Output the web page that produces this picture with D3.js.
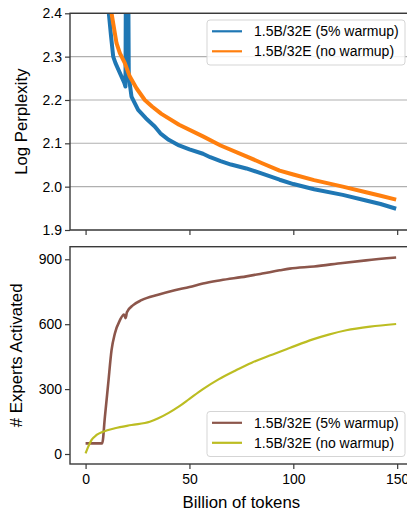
<!DOCTYPE html>
<html>
<head>
<meta charset="utf-8">
<script src="https://cdn.jsdelivr.net/npm/d3@7"></script>
<style>
  html, body { margin: 0; padding: 0; background: #fff; }
  svg { display: block; overflow: hidden; }
  text { font-family: "Liberation Sans", Arial, sans-serif; fill: #000; }
</style>
</head>
<body>
<div id="chart"></div>
<script>
// ---- data ----
const xTicks = [0, 50, 100, 150];
const pplTicks = [1.9, 2.0, 2.1, 2.2, 2.3, 2.4];
const expTicks = [0, 300, 600, 900];

const seriesNames = ['1.5B/32E (5% warmup)', '1.5B/32E (no warmup)'];

// log perplexity, 5% warmup  [billion tokens, value]
const pplWarmup = [
  [10.0, 2.47], [11.2, 2.40], [12.2, 2.35], [13.3, 2.30], [14.4, 2.285],
  [17.3, 2.254], [18.6, 2.24], [19.2, 2.231], [19.5, 2.60], [20.4, 2.60],
  [20.8, 2.254], [22.1, 2.208], [25.3, 2.177], [29, 2.158], [33.3, 2.139],
  [36, 2.123], [40, 2.108], [45, 2.095], [50, 2.086], [56.5, 2.076],
  [60, 2.068], [65, 2.059], [70, 2.051], [77.4, 2.042], [85, 2.030],
  [93.4, 2.016], [100, 2.006], [110, 1.994], [123.8, 1.981], [135, 1.968],
  [142, 1.960], [149.5, 1.949]
];
// log perplexity, no warmup
const pplNoWarmup = [
  [11.8, 2.45], [12.5, 2.40], [14.9, 2.331], [16.5, 2.308], [18.9, 2.285],
  [21.3, 2.254], [24.5, 2.227], [28.5, 2.200], [32, 2.185], [36.5, 2.168],
  [45, 2.143], [56.5, 2.116], [65, 2.095], [77.4, 2.070], [85, 2.054],
  [93.4, 2.037], [100, 2.028], [110, 2.015], [123.8, 2.000], [135, 1.987],
  [142, 1.979], [149.5, 1.970]
];
// experts activated, 5% warmup
const expWarmup = [
  [0, 49], [8.0, 49], [9.3, 172], [10.9, 326], [12.5, 480], [14.1, 557],
  [16.5, 618], [18.5, 645], [19.3, 628], [19.9, 655], [22.9, 688], [26.9, 711],
  [34.9, 736], [42.9, 757], [50, 772], [56.5, 788], [65, 803], [77.4, 821],
  [85, 834], [93.4, 849], [98.3, 857], [110, 867], [123.8, 883], [135, 895],
  [149.5, 908]
];
// experts activated, no warmup
const expNoWarmup = [
  [0, 3], [1.3, 34], [2.9, 65], [5.3, 88], [8.5, 103], [14.1, 119],
  [22.1, 134], [30.9, 149], [35, 165], [40, 190], [45, 220], [50, 255],
  [56.5, 300], [64, 345], [72.6, 388], [80, 422], [88.6, 455], [98.2, 490],
  [109.4, 530], [117, 552], [125.5, 572], [137, 589], [149.5, 601]
];

// ---- layout ----
const W = 407, H = 512;
const left = 70;
const top1 = 13.3, bot1 = 230;
const top2 = 246.7, bot2 = 464;

const svg = d3.select('#chart').append('svg')
  .attr('width', W).attr('height', H);

const x = d3.scaleLinear().domain([-7.5, 157.5]).range([left, left + 165 * 2.0773]);
const right = x.range()[1];
const y1 = d3.scaleLinear().domain([1.9, 2.4]).range([bot1, top1]);
const y2 = d3.scaleLinear().domain([-46.2, 958.2]).range([bot2, top2]);

const spine = '#3a3a3a';

function clip(id, t, b) {
  svg.append('clipPath').attr('id', id)
    .append('rect').attr('x', left).attr('y', t).attr('width', right - left).attr('height', b - t);
}
clip('c1', top1, bot1);
clip('c2', top2, bot2);

function styleAxis(g) {
  g.select('.domain').remove();
  g.selectAll('.tick line').attr('stroke', spine).attr('stroke-width', 1.2);
  g.selectAll('.tick text').style('font-size', '14px').attr('fill', '#111');
}

// ---- top panel ----
const p1 = svg.append('g');
p1.append('g').selectAll('line').data(pplTicks).enter().append('line')
  .attr('x1', left).attr('x2', right)
  .attr('y1', d => y1(d)).attr('y2', d => y1(d))
  .attr('stroke', '#b0b0b0').attr('stroke-width', 1.1);

const line1 = d3.line().x(d => x(d[0])).y(d => y1(d[1]));
p1.append('g').attr('clip-path', 'url(#c1)').selectAll('path')
  .data([[pplWarmup, '#1f77b4'], [pplNoWarmup, '#ff7f0e']]).enter().append('path')
  .attr('d', d => line1(d[0])).attr('fill', 'none')
  .attr('stroke', d => d[1]).attr('stroke-width', 4).attr('stroke-linejoin', 'round');

p1.append('g').attr('transform', `translate(${left},0)`)
  .call(d3.axisLeft(y1).tickValues(pplTicks).tickFormat(d3.format('.1f')).tickSize(5).tickPadding(3))
  .call(styleAxis);
p1.append('g').attr('transform', `translate(0,${bot1})`)
  .call(d3.axisBottom(x).tickValues(xTicks).tickFormat('').tickSize(5))
  .call(styleAxis);

p1.append('rect').attr('x', left).attr('y', top1).attr('width', right - left).attr('height', bot1 - top1)
  .attr('fill', 'none').attr('stroke', spine).attr('stroke-width', 1.4);

p1.append('text')
  .attr('transform', `translate(27,${(top1 + bot1) / 2}) rotate(-90)`)
  .attr('text-anchor', 'middle').style('font-size', '16.8px')
  .text('Log Perplexity');

// ---- bottom panel ----
const p2 = svg.append('g');
const line2 = d3.line().x(d => x(d[0])).y(d => y2(d[1])).curve(d3.curveMonotoneX);
p2.append('g').attr('clip-path', 'url(#c2)').selectAll('path')
  .data([[expWarmup, '#8c564b', 2.6], [expNoWarmup, '#bcbd22', 2.2]]).enter().append('path')
  .attr('d', d => line2(d[0])).attr('fill', 'none')
  .attr('stroke', d => d[1]).attr('stroke-width', d => d[2]).attr('stroke-linejoin', 'round');

p2.append('g').attr('transform', `translate(${left},0)`)
  .call(d3.axisLeft(y2).tickValues(expTicks).tickSize(5).tickPadding(3))
  .call(styleAxis);
p2.append('g').attr('transform', `translate(0,${bot2})`)
  .call(d3.axisBottom(x).tickValues(xTicks).tickSize(5).tickPadding(5))
  .call(styleAxis);

p2.append('rect').attr('x', left).attr('y', top2).attr('width', right - left).attr('height', bot2 - top2)
  .attr('fill', 'none').attr('stroke', spine).attr('stroke-width', 1.4);

p2.append('text')
  .attr('transform', `translate(22,${(top2 + bot2) / 2}) rotate(-90)`)
  .attr('text-anchor', 'middle').style('font-size', '16.8px')
  .text('# Experts Activated');

svg.append('text')
  .attr('x', x(75)).attr('y', 508)
  .attr('text-anchor', 'middle').style('font-size', '16.8px')
  .text('Billion of tokens');

// ---- legends ----
function legend(y0, colors) {
  const g = svg.append('g');
  g.append('rect').attr('x', 207).attr('y', y0).attr('width', 198).attr('height', 45)
    .attr('rx', 3).attr('fill', 'rgba(255,255,255,0.85)')
    .attr('stroke', '#d5d5d5').attr('stroke-width', 1);
  const items = g.selectAll('.item').data(seriesNames).enter().append('g')
    .attr('transform', (d, i) => `translate(0,${y0 + 11.3 + i * 20})`);
  items.append('line').attr('x1', 212).attr('x2', 242).attr('y1', 0).attr('y2', 0)
    .attr('stroke', (d, i) => colors[i]).attr('stroke-width', 2.2);
  items.append('text').attr('x', 254).attr('y', 5).style('font-size', '14px').text(d => d);
}
legend(20, ['#1f77b4', '#ff7f0e']);
legend(411.5, ['#8c564b', '#bcbd22']);
</script>
</body>
</html>
